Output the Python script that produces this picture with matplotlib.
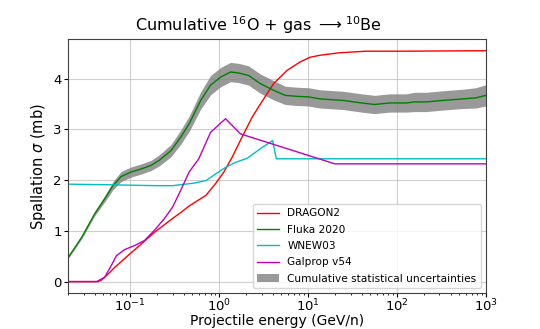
import matplotlib
matplotlib.use("Agg")
import matplotlib.pyplot as plt

# DRAGON2 (red)
dragon_E = [0.02, 0.0435, 0.0475, 0.0516, 0.058, 0.067, 0.08, 0.094, 0.133, 0.187, 0.287, 0.37,
            0.46, 0.71, 0.91, 1.13, 1.40, 1.81, 2.35, 2.91, 4.09, 5.78, 8.15, 10.5, 13.6, 22.8,
            45.0, 107.0, 1000.0]
dragon = [0.0, 0.0, 0.03, 0.085, 0.17, 0.28, 0.40, 0.51, 0.74, 0.97, 1.22, 1.36,
          1.49, 1.70, 1.93, 2.16, 2.45, 2.85, 3.24, 3.50, 3.90, 4.16, 4.33, 4.42, 4.46, 4.51,
          4.54, 4.54, 4.55]

# Fluka 2020 (green) + statistical band
fluka_E = [0.02, 0.0284, 0.040, 0.0516, 0.064, 0.079, 0.1026, 0.133, 0.172, 0.212, 0.287, 0.371,
           0.46, 0.62, 0.80, 1.04, 1.34, 1.66, 2.15, 2.91, 4.09, 5.53, 7.48, 10.1, 13.6, 24.8,
           39.8, 56.0, 82.0, 127.0, 157.0, 212.0, 325.0, 543.0, 767.0, 1000.0]
fluka = [0.47, 0.87, 1.34, 1.63, 1.89, 2.07, 2.16, 2.22, 2.29, 2.39, 2.58, 2.85,
         3.11, 3.57, 3.87, 4.03, 4.13, 4.11, 4.06, 3.90, 3.77, 3.67, 3.65, 3.64, 3.60, 3.57,
         3.52, 3.49, 3.52, 3.52, 3.54, 3.54, 3.57, 3.60, 3.62, 3.67]
fluka_err = [0.02, 0.03, 0.04, 0.06, 0.08, 0.10, 0.10, 0.10, 0.10, 0.11, 0.12, 0.14,
             0.15, 0.17, 0.19, 0.19, 0.19, 0.19, 0.19, 0.19, 0.19, 0.18, 0.18, 0.18, 0.18, 0.18,
             0.18, 0.18, 0.18, 0.18, 0.19, 0.19, 0.19, 0.19, 0.20, 0.21]

# WNEW03 (cyan)
wnew_E = [0.02, 0.05, 0.1, 0.2, 0.3, 0.37, 0.52, 0.71, 0.91, 1.18, 1.53, 2.07, 2.91, 3.99,
          4.39, 1000.0]
wnew = [1.92, 1.91, 1.90, 1.89, 1.89, 1.91, 1.94, 1.99, 2.12, 2.25, 2.35, 2.43, 2.62, 2.78,
        2.42, 2.42]

# Galprop v54 (magenta)
galprop_E = [0.02, 0.042, 0.0516, 0.0614, 0.070, 0.0865, 0.112, 0.145, 0.187, 0.242, 0.30,
             0.37, 0.46, 0.59, 0.80, 1.18, 1.74, 20.0, 1000.0]
galprop = [0.0, 0.0, 0.085, 0.32, 0.51, 0.63, 0.71, 0.81, 1.01, 1.24, 1.47,
           1.80, 2.16, 2.42, 2.94, 3.21, 2.91, 2.32, 2.32]

fig = plt.figure(figsize=(5.4, 3.29), dpi=100)
ax = fig.add_axes([0.126, 0.109, 0.774, 0.772])

ax.plot(dragon_E, dragon, color="r", lw=1.0, label="DRAGON2")
ax.plot(fluka_E, fluka, color="g", lw=1.0, label="Fluka 2020")
ax.plot(wnew_E, wnew, color="c", lw=1.0, label="WNEW03")
ax.plot(galprop_E, galprop, color="m", lw=1.0, label="Galprop v54")
lo = [v - e for v, e in zip(fluka, fluka_err)]
hi = [v + e for v, e in zip(fluka, fluka_err)]
ax.fill_between(fluka_E, lo, hi, color="grey", alpha=0.8, lw=0, zorder=1,
                label="Cumulative statistical uncertainties")

ax.set_xscale("log")
ax.set_xlim(0.02, 1000)
ax.grid(True, color="#b0b0b0", alpha=0.6)
ax.set_axisbelow(True)
ax.tick_params(which="major", labelsize=9.5, length=2.9, pad=1.5)
ax.tick_params(axis="x", which="major", pad=0.5)
ax.tick_params(which="minor", length=1.7)
for s in ax.spines.values():
    s.set_color("#404040")
ax.set_xlabel("Projectile energy (GeV/n)", fontsize=10, labelpad=0)
ax.set_ylabel(r"Spallation $\sigma$ (mb)", fontsize=10.5, labelpad=4)
ax.set_title(r"Cumulative $^{16}$O + gas $\longrightarrow$$^{10}$Be", fontsize=11.5, x=0.456)
ax.legend(loc="lower right", fontsize=7.6, labelspacing=0.6, handlelength=2.1)

fig.savefig("out.png", dpi=100)
